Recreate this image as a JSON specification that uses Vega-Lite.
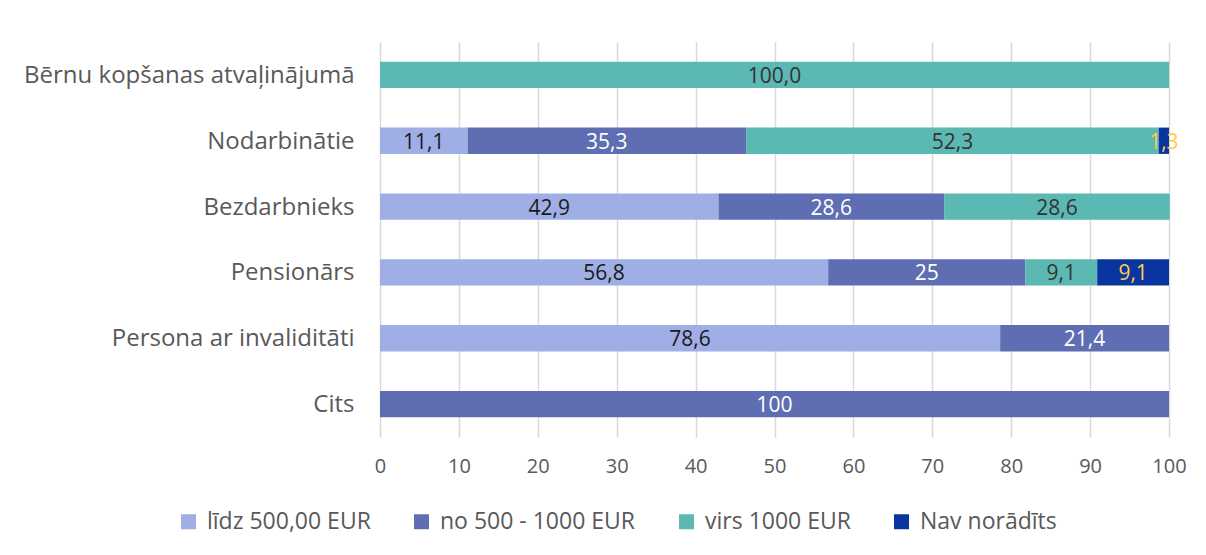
{
  "$schema": "https://vega.github.io/schema/vega-lite/v6.json",
  "autosize": "none",
  "width": 789,
  "height": 395,
  "padding": {"left": 380, "top": 42, "right": 37, "bottom": 118},
  "background": "white",
  "config": {
    "font": "Open Sans",
    "view": {"stroke": null},
    "axis": {"labelFont": "Open Sans", "labelColor": "#595959"}
  },
  "data": {
    "values": [
      {"group": "Bērnu kopšanas atvaļinājumā", "series": "virs 1000 EUR", "k": 3, "value": 100.0, "label": "100,0"},
      {"group": "Nodarbinātie", "series": "līdz 500,00 EUR", "k": 1, "value": 11.1, "label": "11,1"},
      {"group": "Nodarbinātie", "series": "no 500 - 1000 EUR", "k": 2, "value": 35.3, "label": "35,3"},
      {"group": "Nodarbinātie", "series": "virs 1000 EUR", "k": 3, "value": 52.3, "label": "52,3"},
      {"group": "Nodarbinātie", "series": "Nav norādīts", "k": 4, "value": 1.3, "label": "1,3"},
      {"group": "Bezdarbnieks", "series": "līdz 500,00 EUR", "k": 1, "value": 42.9, "label": "42,9"},
      {"group": "Bezdarbnieks", "series": "no 500 - 1000 EUR", "k": 2, "value": 28.6, "label": "28,6"},
      {"group": "Bezdarbnieks", "series": "virs 1000 EUR", "k": 3, "value": 28.6, "label": "28,6"},
      {"group": "Pensionārs", "series": "līdz 500,00 EUR", "k": 1, "value": 56.8, "label": "56,8"},
      {"group": "Pensionārs", "series": "no 500 - 1000 EUR", "k": 2, "value": 25, "label": "25"},
      {"group": "Pensionārs", "series": "virs 1000 EUR", "k": 3, "value": 9.1, "label": "9,1"},
      {"group": "Pensionārs", "series": "Nav norādīts", "k": 4, "value": 9.1, "label": "9,1"},
      {"group": "Persona ar  invaliditāti", "series": "līdz 500,00 EUR", "k": 1, "value": 78.6, "label": "78,6"},
      {"group": "Persona ar  invaliditāti", "series": "no 500 - 1000 EUR", "k": 2, "value": 21.4, "label": "21,4"},
      {"group": "Cits", "series": "no 500 - 1000 EUR", "k": 2, "value": 100, "label": "100"}
    ]
  },
  "encoding": {
    "y": {
      "field": "group", "type": "nominal", "sort": null, "title": null,
      "scale": {"paddingInner": 0.6, "paddingOuter": 0.3},
      "axis": {"domain": false, "ticks": false, "labelPadding": 26, "grid": false, "labelFontSize": 24, "labelLimit": 400, "labelBaseline": "middle", "labelOffset": 1}
    }
  },
  "layer": [
    {
      "mark": {"type": "bar"},
      "encoding": {
        "x": {
          "field": "value", "type": "quantitative", "stack": "zero", "title": null,
          "scale": {"domain": [0, 100], "nice": false},
          "axis": {"values": [0, 10, 20, 30, 40, 50, 60, 70, 80, 90, 100], "domain": false, "ticks": false, "grid": true, "gridColor": "#d9d9d9", "gridWidth": 1.5, "labelPadding": 19, "labelFlush": false, "labelFontSize": 20}
        },
        "order": {"field": "k", "type": "quantitative"},
        "color": {
          "field": "series", "type": "nominal",
          "scale": {
            "domain": ["līdz 500,00 EUR", "no 500 - 1000 EUR", "virs 1000 EUR", "Nav norādīts"],
            "range": ["#9FAEE5", "#5F6EB2", "#5CB8B2", "#0A35A0"]
          },
          "legend": {
            "title": null, "orient": "none", "direction": "horizontal", "columns": 4,
            "legendX": -203, "legendY": 468,
            "symbolType": "square", "symbolSize": 225, "symbolStrokeWidth": 0,
            "labelFont": "Open Sans", "labelFontSize": 23, "labelColor": "#595959",
            "labelOffset": 7, "columnPadding": 39, "labelLimit": 300
          }
        }
      }
    },
    {
      "mark": {"type": "text", "font": "Open Sans", "fontSize": 21, "align": "center", "baseline": "middle", "dy": 2},
      "encoding": {
        "x": {"field": "value", "type": "quantitative", "stack": "zero", "bandPosition": 0.5},
        "order": {"field": "k", "type": "quantitative"},
        "text": {"field": "label"},
        "color": {
          "field": "series", "type": "nominal",
          "scale": {
            "domain": ["līdz 500,00 EUR", "no 500 - 1000 EUR", "virs 1000 EUR", "Nav norādīts"],
            "range": ["#1a1a1a", "#ffffff", "#333333", "#FFCC44"]
          },
          "legend": null
        }
      }
    }
  ],
  "resolve": {"scale": {"color": "independent"}}
}
